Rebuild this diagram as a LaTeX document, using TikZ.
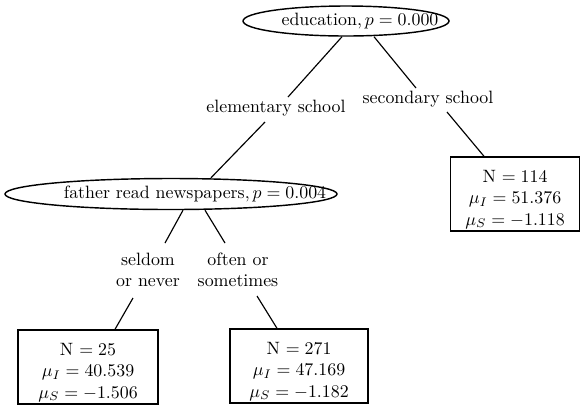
\documentclass[tikz,border=0pt]{standalone}
\usetikzlibrary{calc,shapes.geometric}
\newlength{\upx}
\setlength{\upx}{0.56pt}
\newcommand{\topgap}{\rule{0pt}{13pt}}
\begin{document}
\begin{tikzpicture}[x=\upx,y=-\upx,
  split/.style={draw,ellipse,line width=0.8pt,inner sep=0pt},
  tag/.style={inner sep=1pt,align=center,font=\normalsize},
  leaf/.style={draw,rectangle,line width=0.8pt,align=center,inner sep=0pt,minimum height=74*\upx},
  edge/.style={line width=0.65pt}]
\useasboundingbox (0,0) rectangle (581,408);

% split nodes (ellipse outlines with their captions)
\node[split,minimum width=206*\upx,minimum height=30*\upx] (edu) at (346,21) {};
\node[tag] (eduText) at (360,21) {$\mbox{education}, p = 0.000$};

\node[split,minimum width=332*\upx,minimum height=31*\upx] (father) at (171,194) {};
\node[tag] (fatherText) at (195,194) {$\mbox{father read newspapers}, p = 0.004$};

% branch captions
\node[tag] (elem) at (276,108) {elementary school};
\node[tag] (sec) at (428,99) {secondary school};
\node[tag] (seldom) at (148,270) {seldom\\or never};
\node[tag] (often) at (238,270) {often or\\sometimes};

% terminal nodes
\node[leaf,minimum width=140*\upx] (b25) at (88,367)
  {\topgap N $= 25$\\$\mu_I = 40.539$\\$\mu_S = -1.506$};
\node[leaf,minimum width=138*\upx] (b271) at (299,366)
  {\topgap N $= 271$\\$\mu_I = 47.169$\\$\mu_S = -1.182$};
\node[leaf,minimum width=129*\upx] (b114) at (515,194)
  {\topgap N $= 114$\\$\mu_I = 51.376$\\$\mu_S = -1.118$};

% connectors
\draw[edge] ($(edu.south)+(-4,0)$) -- ($(elem.center)+(12,-11)$);
\draw[edge] ($(edu.south)+(28,0)$) -- ($(sec.center)+(-12,-11)$);
\draw[edge] ($(elem.center)+(-11,14)$) -- ($(father.north)+(40,0)$);
\draw[edge] ($(sec.center)+(19,13)$) -- ($(b114.north)+(-31,0)$);
\draw[edge] ($(father.south)+(12,0)$) -- ($(seldom.center)+(17,-27)$);
\draw[edge] ($(father.south)+(34,0)$) -- ($(often.center)+(-13,-27)$);
\draw[edge] ($(seldom.center)+(-15,28)$) -- ($(b25.north)+(27,0)$);
\draw[edge] ($(often.center)+(19,26)$) -- ($(b271.north)+(-22,0)$);
\end{tikzpicture}
\end{document}
